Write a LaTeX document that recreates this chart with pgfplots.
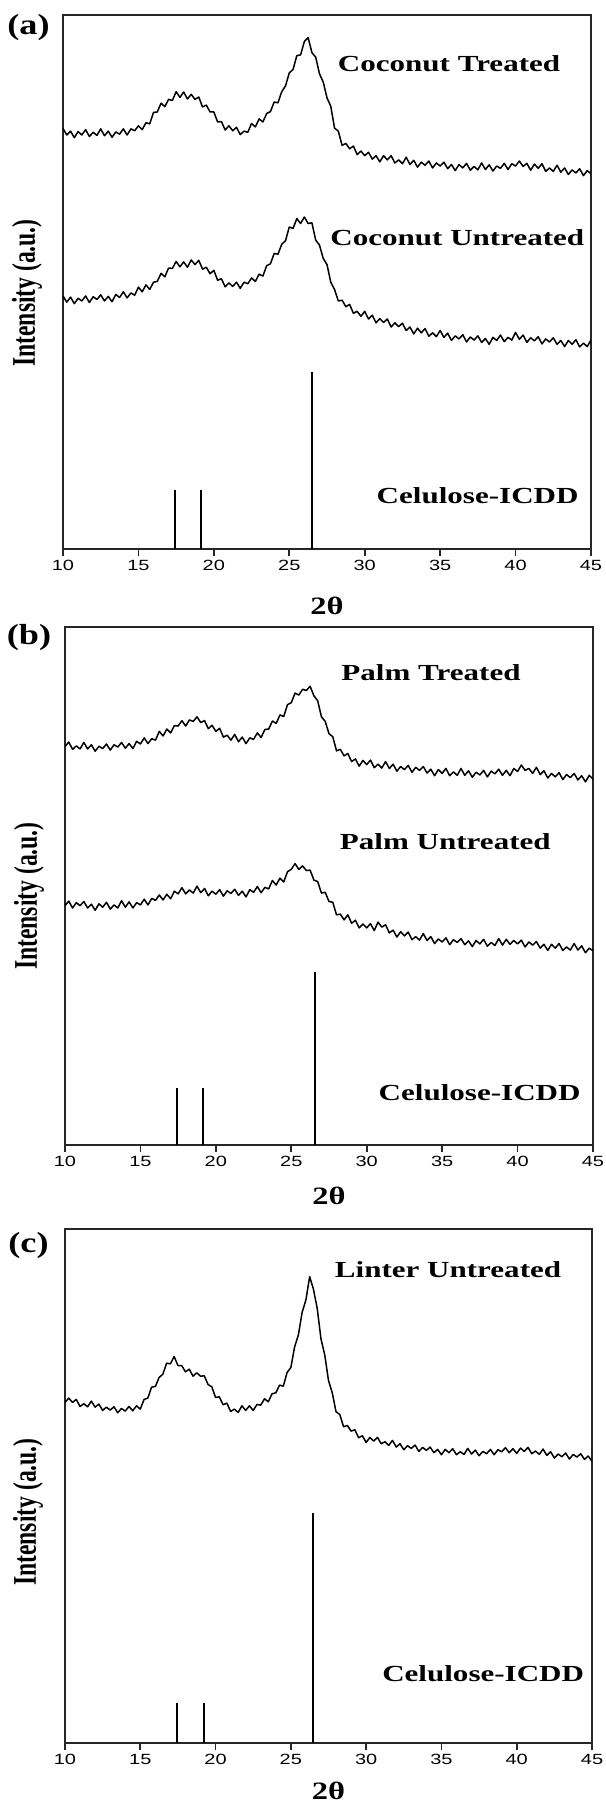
\documentclass[border=0pt]{standalone}
\usepackage{pgfplots}
\pgfplotsset{compat=1.18}
\usepackage{pgfplotstable}
\usepackage{graphicx}
\usepackage{fontspec}
\setmainfont{Liberation Serif}
\newfontfamily\tickfont{Liberation Sans}
\newcommand\sx[1]{\scalebox{1.35}[1]{\tickfont\fontsize{7.4}{8}\selectfont #1}}
\newcommand\lab[1]{\scalebox{1.35}[1]{\fontsize{11.5}{12}\selectfont\bfseries #1}}
\newcommand\pl[1]{\scalebox{1.25}[1]{\fontsize{14.5}{15}\selectfont\bfseries #1}}
\newcommand\ttl{\scalebox{1.3}[1]{\fontsize{12.5}{13}\selectfont\bfseries 2θ}}
\newcommand\ylab{\scalebox{1}[1.4]{\fontsize{11.8}{12}\selectfont\bfseries Intensity (a.u.)}}

\pgfplotstableread{
x y
10.00 1097
10.25 1080
10.50 1090
10.75 1073
11.00 1089
11.25 1080
11.50 1094
11.75 1076
12.00 1087
12.25 1079
12.50 1096
12.75 1078
13.00 1090
13.25 1074
13.50 1088
13.75 1082
14.00 1096
14.25 1080
14.50 1096
14.75 1091
15.00 1104
15.25 1094
15.50 1112
15.75 1109
16.00 1139
16.25 1140
16.50 1163
16.75 1154
17.00 1173
17.25 1170
17.50 1193
17.75 1178
18.00 1192
18.25 1174
18.50 1186
18.75 1173
19.00 1179
19.25 1153
19.50 1158
19.75 1140
20.00 1140
20.25 1114
20.50 1115
20.75 1093
21.00 1104
21.25 1091
21.50 1100
21.75 1081
22.00 1090
22.25 1087
22.50 1110
22.75 1101
23.00 1122
23.25 1114
23.50 1136
23.75 1141
24.00 1166
24.25 1164
24.50 1193
24.75 1208
25.00 1242
25.25 1251
25.50 1287
25.75 1289
26.00 1324
26.25 1334
26.50 1295
26.75 1283
27.00 1240
27.25 1218
27.50 1177
27.75 1155
28.00 1098
28.25 1090
28.50 1053
28.75 1058
29.00 1044
29.25 1051
29.50 1029
29.75 1038
30.00 1026
30.25 1035
30.50 1017
30.75 1026
31.00 1010
31.25 1026
31.50 1015
31.75 1026
32.00 1007
32.25 1015
32.50 1005
32.75 1022
33.00 1003
33.25 1014
33.50 996
33.75 1009
34.00 1001
34.25 1012
34.50 994
34.75 1007
35.00 999
35.25 1009
35.50 992
35.75 1003
36.00 987
36.25 1003
36.50 994
36.75 1006
37.00 988
37.25 998
37.50 989
37.75 1007
38.00 990
38.25 1002
38.50 986
38.75 999
39.00 993
39.25 1006
39.50 990
39.75 1005
40.00 999
40.25 1012
40.50 998
40.75 1006
41.00 988
41.25 1004
41.50 993
41.75 1005
42.00 985
42.25 994
42.50 985
42.75 1001
43.00 983
43.25 994
43.50 977
43.75 989
44.00 981
44.25 992
44.50 974
44.75 987
45.00 979
}\CT

\pgfplotstableread{
x y
10.00 660
10.25 644
10.50 657
10.75 640
11.00 654
11.25 647
11.50 660
11.75 643
12.00 658
12.25 651
12.50 663
12.75 647
13.00 659
13.25 645
13.50 664
13.75 656
14.00 671
14.25 655
14.50 668
14.75 662
15.00 683
15.25 671
15.50 689
15.75 677
16.00 696
16.25 698
16.50 719
16.75 710
17.00 733
17.25 732
17.50 750
17.75 736
18.00 749
18.25 735
18.50 754
18.75 742
19.00 753
19.25 730
19.50 735
19.75 718
20.00 727
20.25 701
20.50 705
20.75 684
21.00 694
21.25 685
21.50 696
21.75 680
22.00 696
22.25 692
22.50 707
22.75 698
23.00 717
23.25 712
23.50 739
23.75 744
24.00 771
24.25 769
24.50 795
24.75 804
25.00 840
25.25 836
25.50 862
25.75 849
26.00 866
26.25 849
26.50 851
26.75 806
27.00 793
27.25 758
27.50 742
27.75 696
28.00 677
28.25 647
28.50 649
28.75 632
29.00 638
29.25 615
29.50 620
29.75 607
30.00 620
30.25 600
30.50 610
30.75 590
31.00 601
31.25 591
31.50 600
31.75 579
32.00 590
32.25 580
32.50 589
32.75 570
33.00 579
33.25 561
33.50 576
33.75 564
34.00 575
34.25 555
34.50 564
34.75 554
35.00 570
35.25 552
35.50 563
35.75 544
36.00 556
36.25 548
36.50 559
36.75 540
37.00 553
37.25 545
37.50 556
37.75 539
38.00 549
38.25 534
38.50 552
38.75 544
39.00 558
39.25 541
39.50 552
39.75 545
40.00 565
40.25 547
40.50 558
40.75 539
41.00 551
41.25 543
41.50 554
41.75 535
42.00 548
42.25 540
42.50 551
42.75 534
43.00 544
43.25 528
43.50 544
43.75 534
44.00 546
44.25 527
44.50 537
44.75 528
45.00 545
}\CU

\pgfplotstableread{
x y
10.00 1042
10.25 1054
10.50 1035
10.75 1044
11.00 1036
11.25 1053
11.50 1036
11.75 1047
12.00 1030
12.25 1043
12.50 1037
12.75 1049
13.00 1033
13.25 1047
13.50 1041
13.75 1053
14.00 1038
14.25 1050
14.50 1037
14.75 1056
15.00 1049
15.25 1065
15.50 1050
15.75 1063
16.00 1059
16.25 1082
16.50 1070
16.75 1088
17.00 1078
17.25 1097
17.50 1096
17.75 1110
18.00 1096
18.25 1112
18.50 1108
18.75 1120
19.00 1105
19.25 1110
19.50 1089
19.75 1098
20.00 1082
20.25 1090
20.50 1067
20.75 1072
21.00 1059
21.25 1074
21.50 1055
21.75 1067
22.00 1050
22.25 1065
22.50 1061
22.75 1078
23.00 1066
23.25 1087
23.50 1088
23.75 1109
24.00 1103
24.25 1125
24.50 1121
24.75 1152
25.00 1157
25.25 1182
25.50 1177
25.75 1192
26.00 1189
26.25 1200
26.50 1175
26.75 1162
27.00 1120
27.25 1108
27.50 1076
27.75 1068
28.00 1031
28.25 1035
28.50 1018
28.75 1024
29.00 1003
29.25 1010
29.50 991
29.75 1006
30.00 995
30.25 1007
30.50 987
30.75 996
31.00 986
31.25 1003
31.50 985
31.75 996
32.00 978
32.25 990
32.50 982
32.75 993
33.00 975
33.25 988
33.50 980
33.75 990
34.00 973
34.25 983
34.50 966
34.75 982
35.00 972
35.25 985
35.50 966
35.75 976
36.00 967
36.25 985
36.50 967
36.75 979
37.00 962
37.25 975
37.50 968
37.75 980
38.00 963
38.25 978
38.50 971
38.75 983
39.00 967
39.25 980
39.50 966
39.75 985
40.00 977
40.25 994
40.50 980
40.75 985
41.00 972
41.25 988
41.50 969
41.75 979
42.00 960
42.25 972
42.50 963
42.75 974
43.00 956
43.25 969
43.50 961
43.75 972
44.00 955
44.25 966
44.50 950
44.75 967
45.00 957
}\PT

\pgfplotstableread{
x y
10.00 626
10.25 638
10.50 620
10.75 634
11.00 626
11.25 637
11.50 620
11.75 630
12.00 614
12.25 631
12.50 622
12.75 635
13.00 617
13.25 628
13.50 620
13.75 639
14.00 622
14.25 636
14.50 620
14.75 634
15.00 628
15.25 643
15.50 628
15.75 645
16.00 640
16.25 654
16.50 641
16.75 656
17.00 644
17.25 664
17.50 657
17.75 673
18.00 657
18.25 667
18.50 659
18.75 677
19.00 660
19.25 671
19.50 652
19.75 664
20.00 656
20.25 668
20.50 651
20.75 665
21.00 658
21.25 669
21.50 653
21.75 664
22.00 649
22.25 668
22.50 661
22.75 676
23.00 660
23.25 674
23.50 670
23.75 692
24.00 680
24.25 698
24.50 688
24.75 715
25.00 721
25.25 736
25.50 721
25.75 730
26.00 718
26.25 719
26.50 693
26.75 689
27.00 659
27.25 661
27.50 637
27.75 635
28.00 602
28.25 604
28.50 589
28.75 602
29.00 580
29.25 588
29.50 568
29.75 578
30.00 568
30.25 579
30.50 561
30.75 583
31.00 570
31.25 576
31.50 555
31.75 562
32.00 544
32.25 558
32.50 547
32.75 557
33.00 537
33.25 545
33.50 536
33.75 553
34.00 535
34.25 545
34.50 527
34.75 539
35.00 531
35.25 542
35.50 524
35.75 537
36.00 530
36.25 540
36.50 524
36.75 534
37.00 519
37.25 535
37.50 526
37.75 538
38.00 520
38.25 530
38.50 522
38.75 540
39.00 523
39.25 538
39.50 525
39.75 535
40.00 526
40.25 536
40.50 518
40.75 531
41.00 523
41.25 532
41.50 515
41.75 525
42.00 509
42.25 525
42.50 515
42.75 527
43.00 509
43.25 518
43.50 510
43.75 527
44.00 510
44.25 521
44.50 503
44.75 515
45.00 508
}\PU

\pgfplotstableread{
x y
10.00 1023
10.25 1036
10.50 1023
10.75 1032
11.00 1011
11.25 1019
11.50 1010
11.75 1027
12.00 1009
12.25 1018
12.50 999
12.75 1009
13.00 1000
13.25 1010
13.50 992
13.75 1005
14.00 997
14.25 1011
14.50 998
14.75 1013
15.00 1003
15.25 1032
15.50 1036
15.75 1069
16.00 1071
16.25 1098
16.50 1108
16.75 1141
17.00 1139
17.25 1161
17.50 1134
17.75 1134
18.00 1115
18.25 1123
18.50 1102
18.75 1112
19.00 1102
19.25 1103
19.50 1077
19.75 1070
20.00 1038
20.25 1040
20.50 1016
20.75 1021
21.00 996
21.25 1003
21.50 993
21.75 1013
22.00 999
22.25 1013
22.50 999
22.75 1017
23.00 1015
23.25 1034
23.50 1025
23.75 1049
24.00 1052
24.25 1075
24.50 1072
24.75 1113
25.00 1128
25.25 1190
25.50 1226
25.75 1294
26.00 1331
26.25 1401
26.50 1363
26.75 1306
27.00 1214
27.25 1166
27.50 1089
27.75 1052
28.00 995
28.25 987
28.50 950
28.75 954
29.00 937
29.25 941
29.50 917
29.75 923
30.00 903
30.25 918
30.50 907
30.75 918
31.00 899
31.25 905
31.50 894
31.75 909
32.00 889
32.25 899
32.50 881
32.75 893
33.00 885
33.25 895
33.50 876
33.75 888
34.00 879
34.25 889
34.50 872
34.75 882
35.00 866
35.25 882
35.50 872
35.75 884
36.00 866
36.25 875
36.50 867
36.75 885
37.00 868
37.25 880
37.50 863
37.75 876
38.00 869
38.25 882
38.50 866
38.75 881
39.00 875
39.25 887
39.50 872
39.75 884
40.00 870
40.25 886
40.50 876
40.75 888
41.00 869
41.25 877
41.50 867
41.75 883
42.00 864
42.25 875
42.50 856
42.75 868
43.00 860
43.25 871
43.50 853
43.75 867
44.00 859
44.25 869
44.50 852
44.75 862
45.00 846
}\LU

\pgfplotsset{
  xrdax/.style={
    scale only axis,
    xmin=10, xmax=45, ymin=0,
    xtick={10,15,20,25,30,35,40,45},
    xticklabels={\sx{10},\sx{15},\sx{20},\sx{25},\sx{30},\sx{35},\sx{40},\sx{45}},
    ytick=\empty,
    xtick pos=bottom,
    tick align=outside,
    major tick length=3.5pt,
    axis line style={line width=0.9pt, black!85},
    every tick/.style={line width=0.9pt, black!85},
    xticklabel style={inner sep=1pt, yshift=-1pt},
    clip mode=individual,
    xlabel style={at={(axis description cs:0.5,0)}, anchor=center},
  },
  curve/.style={black, line width=0.75pt, no marks, line join=round},
  stick/.style={black, line width=1pt, ycomb, no marks},
}

\begin{document}
\begin{tikzpicture}
\useasboundingbox (0,0) rectangle (302.5pt,-901pt);

% ---------------- (a)
\begin{axis}[xrdax, at={(31.5pt,-274.5pt)}, anchor=south west,
  width=264pt, height=267pt, ymax=1393,
  xlabel={\ttl}, xlabel style={yshift=-28.5pt}]
\addplot[curve] table[x=x,y=y] {\CT};
\addplot[curve] table[x=x,y=y] {\CU};
\addplot[stick] coordinates {(17.42,153) (19.13,153) (26.5,463)};
\node[anchor=west, inner sep=0pt] at (axis cs:28.2,1266) {\lab{Coconut Treated}};
\node[anchor=west, inner sep=0pt] at (axis cs:27.7,813) {\lab{Coconut Untreated}};
\node[anchor=east, inner sep=0pt] at (axis cs:44.2,138) {\lab{Celulose-ICDD}};
\end{axis}

% ---------------- (b)
\begin{axis}[xrdax, at={(32.5pt,-572.5pt)}, anchor=south west,
  width=264pt, height=259pt, ymax=1355,
  xlabel={\ttl}, xlabel style={yshift=-25.5pt}]
\addplot[curve] table[x=x,y=y] {\PT};
\addplot[curve] table[x=x,y=y] {\PU};
\addplot[stick] coordinates {(17.44,150) (19.15,150) (26.54,452)};
\node[anchor=west, inner sep=0pt] at (axis cs:28.3,1235) {\lab{Palm Treated}};
\node[anchor=west, inner sep=0pt] at (axis cs:28.2,793) {\lab{Palm Untreated}};
\node[anchor=east, inner sep=0pt] at (axis cs:44.2,138) {\lab{Celulose-ICDD}};
\end{axis}

% ---------------- (c)
\begin{axis}[xrdax, at={(32.5pt,-871.5pt)}, anchor=south west,
  width=263.5pt, height=257pt, ymax=1544,
  xlabel={\ttl}, xlabel style={yshift=-24pt}]
\addplot[curve] table[x=x,y=y] {\LU};
\addplot[stick] coordinates {(17.45,120) (19.2,120) (26.5,690)};
\node[anchor=west, inner sep=0pt] at (axis cs:27.9,1422) {\lab{Linter Untreated}};
\node[anchor=east, inner sep=0pt] at (axis cs:44.5,207) {\lab{Celulose-ICDD}};
\end{axis}

% panel letters and y labels
\node at (14.25pt,-13.75pt) {\pl{(a)}};
\node at (14.5pt,-319pt) {\pl{(b)}};
\node at (14.25pt,-623pt) {\pl{(c)}};
\node[rotate=90] at (13.5pt,-146.5pt) {\ylab};
\node[rotate=90] at (14.5pt,-448pt) {\ylab};
\node[rotate=90] at (14pt,-756pt) {\ylab};
\end{tikzpicture}
\end{document}
